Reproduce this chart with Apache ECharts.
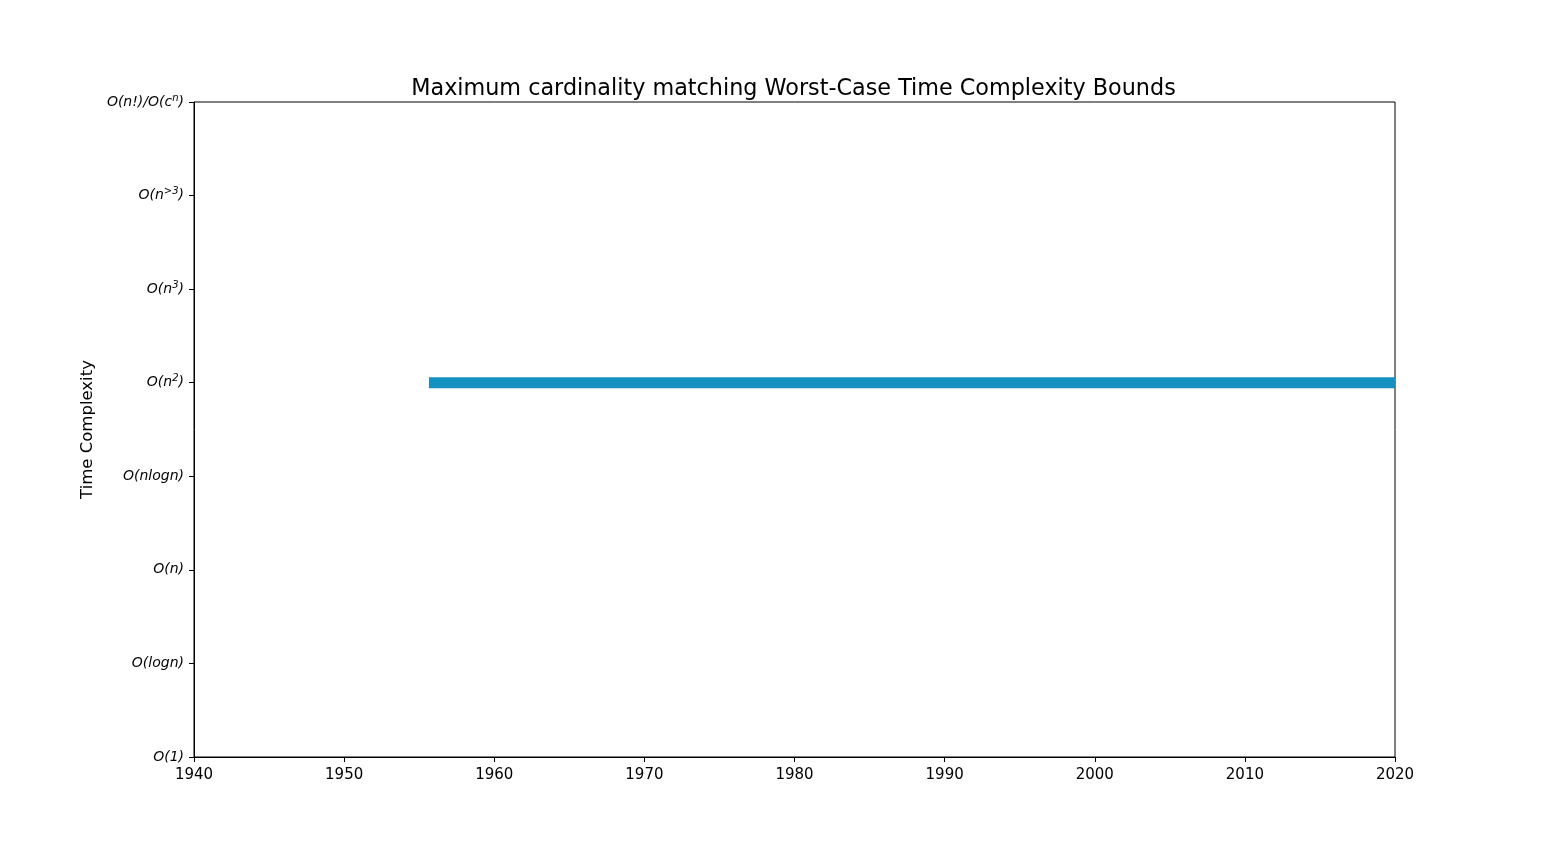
<!DOCTYPE html>
<html>
<head>
<meta charset="utf-8">
<script src="https://cdn.jsdelivr.net/npm/echarts@6/dist/echarts.min.js"></script>
<style>
html,body{margin:0;padding:0;background:#fff;}
#chart{width:1550px;height:850px;}
</style>
</head>
<body>
<div id="chart"></div>
<script>
// Data
const chartTitle = 'Maximum cardinality matching Worst-Case Time Complexity Bounds';
const yAxisTitle = 'Time Complexity';
const yTickLabels = ['O(1)', 'O(logn)', 'O(n)', 'O(nlogn)', 'O(n^2)', 'O(n^3)', 'O(n^>3)', 'O(n!)/O(c^n)'];
const xTicks = [1940, 1950, 1960, 1970, 1980, 1990, 2000, 2010, 2020];
const boundYears = [1955.65, 2020];
const boundLevels = [4, 4];

function toRich(s) {
  return '{i|' + s.replace(/\^([^)]+)/g, '}{s|$1}{i|') + '}';
}

const chart = echarts.init(document.getElementById('chart'));
const font = 'DejaVu Sans';
chart.setOption({
  animation: false,
  backgroundColor: '#fff',
  title: {
    text: chartTitle,
    left: 788.5,
    textAlign: 'center',
    top: 73,
    textStyle: { fontFamily: font, fontSize: 22.3, fontWeight: 'normal', color: '#000' }
  },
  grid: {
    left: 194, right: 155, top: 102, bottom: 93,
    show: true, borderColor: '#000', borderWidth: 1, backgroundColor: 'transparent'
  },
  xAxis: {
    type: 'value',
    min: xTicks[0],
    max: xTicks[xTicks.length - 1],
    interval: 10,
    axisLine: { show: true, lineStyle: { color: '#000', width: 1 } },
    axisTick: { show: true, inside: false, length: 5, lineStyle: { color: '#000' } },
    splitLine: { show: false },
    axisLabel: { color: '#000', fontFamily: font, fontSize: 15, margin: 11, formatter: function (v) { return String(v); } }
  },
  yAxis: {
    type: 'value',
    min: 0,
    max: yTickLabels.length - 1,
    interval: 1,
    name: yAxisTitle,
    nameLocation: 'middle',
    nameGap: 98,
    nameTextStyle: { color: '#000', fontFamily: font, fontSize: 16.5 },
    axisLine: { show: true, lineStyle: { color: '#000', width: 1 } },
    axisTick: { show: true, inside: false, length: 5, lineStyle: { color: '#000' } },
    splitLine: { show: false },
    axisLabel: {
      margin: 10,
      formatter: function (v) { return toRich(yTickLabels[Math.round(v)] || ''); },
      rich: {
        i: { fontFamily: font, fontStyle: 'italic', fontSize: 14, color: '#000', lineHeight: 18 },
        s: { fontFamily: font, fontStyle: 'italic', fontSize: 10, color: '#000', lineHeight: 10, verticalAlign: 'top' }
      }
    }
  },
  series: [{
    type: 'line',
    data: boundYears.map((x, k) => [x, boundLevels[k]]),
    showSymbol: false,
    symbol: 'none',
    lineStyle: { color: '#1591c0', width: 11, cap: 'butt' },
    itemStyle: { color: '#1591c0' }
  }]
});
</script>
</body>
</html>
